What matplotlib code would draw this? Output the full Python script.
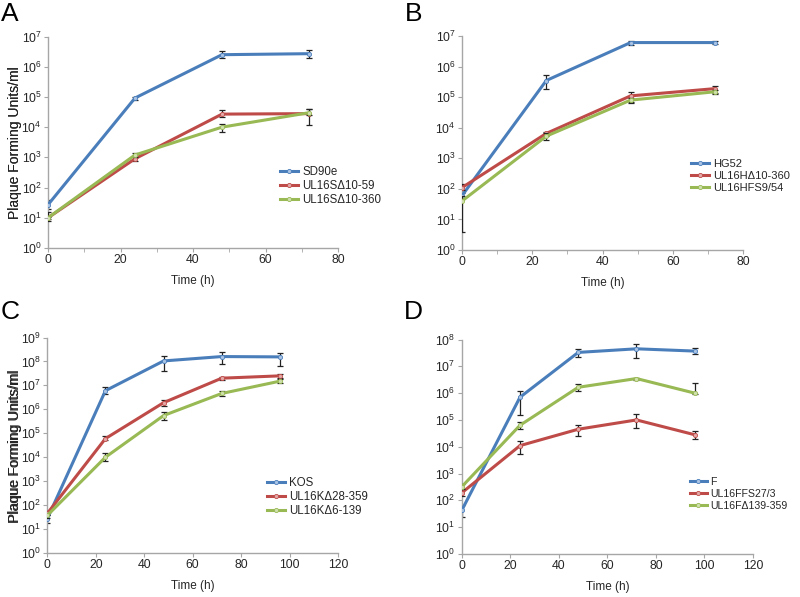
import matplotlib.pyplot as plt
import numpy as np
from matplotlib.ticker import LogLocator, MultipleLocator

plt.rcParams['font.family'] = ['Liberation Sans', 'DejaVu Sans']
plt.rcParams['mathtext.fontset'] = 'custom'
plt.rcParams['mathtext.rm'] = 'Liberation Sans'
plt.rcParams['text.color'] = '#262626'
plt.rcParams['axes.labelcolor'] = '#262626'

# 数据 (A)
t_a = [0, 24, 48, 72]
labels_a = ['SD90e', 'UL16SΔ10-59', 'UL16SΔ10-360']
mean_a = [[27, 9.2e4, 2.5e6, 2.7e6],
          [10, 900, 2.7e4, 2.8e4],
          [10, 1.2e3, 1.0e4, 3.0e4]]
lo_a = [[20, 8.2e4, 1.9e6, 1.9e6],
        [8, 750, 2.2e4, 1.2e4],
        [9, 1.05e3, 7e3, 2.5e4]]
hi_a = [[38, 1.0e5, 3.3e6, 3.5e6],
        [15, 1.05e3, 3.6e4, 4.0e4],
        [11, 1.35e3, 1.3e4, 3.9e4]]

# 数据 (B)
t_b = [0, 24, 48, 72]
labels_b = ['HG52', 'UL16HΔ10-360', 'UL16HFS9/54']
mean_b = [[60, 3.5e5, 6.1e6, 6.1e6],
          [110, 6.5e3, 1.1e5, 1.9e5],
          [40, 5.3e3, 8e4, 1.5e5]]
lo_b = [[50, 1.8e5, 5.2e6, 5.4e6],
        [90, 5.5e3, 7e4, 1.4e5],
        [4, 4e3, 6.2e4, 1.3e5]]
hi_b = [[75, 5.2e5, 7e6, 6.8e6],
        [140, 7.5e3, 1.5e5, 2.35e5],
        [60, 6.5e3, 9.5e4, 1.7e5]]

# 数据 (C)
t_c = [0, 24, 48, 72, 96]
labels_c = ['KOS', 'UL16KΔ28-359', 'UL16KΔ6-139']
mean_c = [[27, 6e6, 1.05e8, 1.6e8, 1.55e8],
          [45, 6e4, 1.9e6, 2e7, 2.5e7],
          [37, 1e4, 5.5e5, 4.6e6, 1.5e7]]
lo_c = [[18, 4.3e6, 4e7, 8e7, 6.5e7],
        [38, 5e4, 1.4e6, 1.7e7, 2.1e7],
        [30, 7e3, 3.6e5, 3.5e6, 1.25e7]]
hi_c = [[40, 8.5e6, 1.65e8, 2.4e8, 2.3e8],
        [55, 7.5e4, 2.5e6, 2.3e7, 3e7],
        [45, 1.5e4, 8e5, 6e6, 1.8e7]]

# 数据 (D)
t_d = [0, 24, 48, 72, 96]
labels_d = ['F', 'UL16FFS27/3', 'UL16FΔ139-359']
mean_d = [[42, 7e5, 3.3e7, 4.5e7, 3.7e7],
          [190, 1.1e4, 4.5e4, 1e5, 2.8e4],
          [320, 6.3e4, 1.65e6, 3.5e6, 1.0e6]]
lo_d = [[24, 1.5e5, 2.2e7, 2.1e7, 2.8e7],
        [140, 5.5e3, 2.6e4, 5.2e4, 1.9e4],
        [260, 4.6e4, 1.2e6, 3.2e6, 9e5]]
hi_d = [[65, 1.25e6, 4.5e7, 6.8e7, 4.9e7],
        [260, 1.7e4, 6.6e4, 1.6e5, 4e4],
        [420, 8.5e4, 2.1e6, 3.8e6, 2.4e6]]

colors = ['#4a7ebb', '#be4b48', '#98b954']
light = ['#a9c3e4', '#e3a9a7', '#cfe0ae']
spine_c = '#a6a6a6'
W, H = 800, 597

fig = plt.figure(figsize=(8, 5.97), dpi=100)


def panel(px, letter, letter_xy, t, labels, mean, lo, hi, xmax, ymax, minor_x,
          leg_xy, leg_size, leg_family=None):
    # px = (left, right, top, bottom) 像素
    l, r, tp, b = px
    ax = fig.add_axes([l / W, 1 - b / H, (r - l) / W, (b - tp) / H])
    for i in range(3):
        m = np.array(mean[i])
        err = [m - np.array(lo[i]), np.array(hi[i]) - m]
        ax.errorbar(t, m, yerr=err, fmt='none', ecolor='#222222', elinewidth=0.9,
                    capsize=2, capthick=0.9, zorder=2 + i)
        ax.plot(t, m, color=colors[i], lw=2.2, marker='o', ms=3, mfc=light[i],
                mec=colors[i], mew=0.6, label=labels[i], zorder=3 + i)
    ax.set_yscale('log')
    ax.set_ylim(1, ymax)
    ax.set_xlim(0, xmax)
    ax.yaxis.set_major_locator(LogLocator(base=10, numticks=12))
    ax.yaxis.set_minor_locator(plt.NullLocator())
    ax.xaxis.set_major_locator(MultipleLocator(20))
    if minor_x:
        ax.xaxis.set_minor_locator(MultipleLocator(10))
    for s in ['top', 'right']:
        ax.spines[s].set_visible(False)
    for s in ['left', 'bottom']:
        ax.spines[s].set_color(spine_c)
        ax.spines[s].set_linewidth(1)
    ax.tick_params(which='both', color=spine_c, length=3, labelsize=8.8,
                   labelcolor='#262626', pad=1.5)
    ax.set_xlabel('Time (h)', fontsize=8.5, labelpad=6)
    ax.set_ylabel('Plaque Forming Units/ml', fontsize=10)
    ax.yaxis.set_label_coords((15 - l) / (r - l), 0.5)
    ax.yaxis.label.set_va('center')
    prop = {'size': leg_size}
    if leg_family:
        prop['family'] = leg_family
    leg = ax.legend(loc='center left', bbox_to_anchor=(leg_xy[0] / W, 1 - leg_xy[1] / H),
                    bbox_transform=fig.transFigure, frameon=False, prop=prop,
                    handlelength=1.6, handletextpad=0.35, labelspacing=0.2,
                    borderpad=0, borderaxespad=0)
    for h in leg.get_lines():
        h.set_linewidth(2.2)
    fig.text(letter_xy[0] / W, 1 - letter_xy[1] / H, letter, fontsize=19,
             ha='left', va='top', color='black')
    return ax


panel((48, 338, 36.5, 248), 'A', (1, 2), t_a, labels_a, mean_a, lo_a, hi_a,
      80, 1e7, True, (280, 186), 8.3)
panel((462, 743, 36, 250), 'B', (405, 2), t_b, labels_b, mean_b, lo_b, hi_b,
      80, 1e7, True, (691, 176), 8.0, ['Liberation Sans Narrow', 'Liberation Sans'])
panel((47.3, 338, 337.5, 553), 'C', (1, 300), t_c, labels_c, mean_c, lo_c, hi_c,
      120, 1e9, False, (267, 497), 8.3)
panel((461.7, 753, 339.5, 554), 'D', (404, 300), t_d, labels_d, mean_d, lo_d, hi_d,
      120, 1e8, False, (690, 494), 7.6)

plt.savefig('out.png', dpi=100)
